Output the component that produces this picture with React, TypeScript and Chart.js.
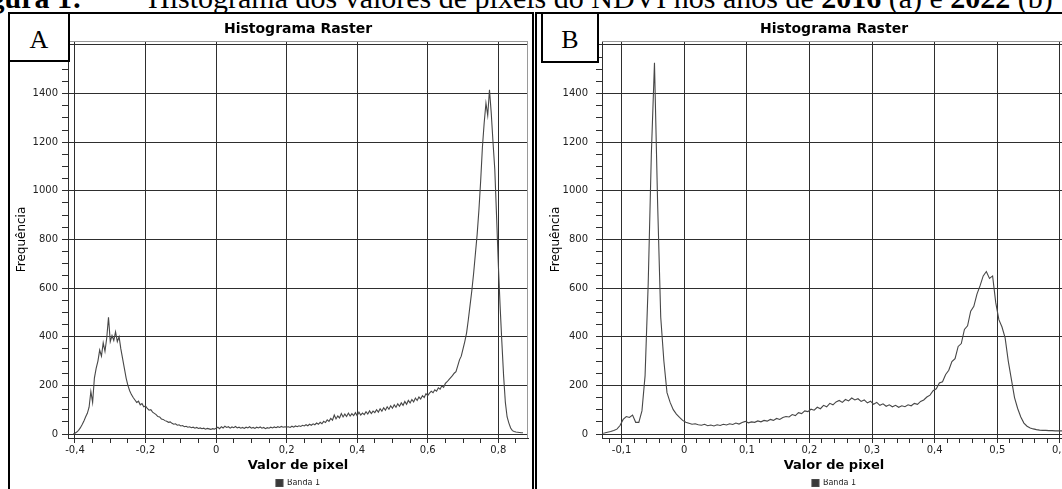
import React, { useEffect, useRef } from 'react';
import { Chart, registerables } from 'chart.js';

Chart.register(...registerables);

const SANS = '"DejaVu Sans", Verdana, sans-serif';
const SERIF = '"Liberation Serif", "Times New Roman", serif';

// ---------- Panel A (2016) : histogram bins ----------
const binStartA = -0.405;
const binWidthA = 0.005;
const freqA = [
  0, 3, 8, 15, 25, 38, 52, 70, 85, 110,
  175, 130, 230, 270, 300, 345, 320, 375, 340, 395,
  480, 380, 405, 385, 420, 380, 400, 350, 310, 270,
  230, 200, 178, 162, 150, 140, 130, 135, 120, 125,
  112, 115,
  105, 98, 100, 90, 85, 80, 72, 70, 62, 60,
  55, 52, 48, 50, 44, 40, 42, 36, 38, 33,
  35, 30, 32, 28, 30, 26, 28, 24, 27, 23,
  25, 22, 24, 20, 23, 21, 19, 22, 20, 24,
  28, 22, 30, 25, 32, 27, 30, 24, 29, 26,
  31, 25, 28, 24, 27, 23, 28, 25, 30, 24,
  27, 23, 28, 25, 29, 24, 27, 22, 26, 24,
  28, 25, 29, 26, 30, 27, 31, 28, 30, 29,
  30, 27, 32, 28, 33, 30, 34, 31, 36, 33,
  38, 34, 40, 36, 42, 38, 45, 40, 48, 42,
  52, 47, 58, 52, 64, 57, 78, 62, 74, 66,
  84, 70, 82, 72, 86, 74, 84, 76, 88, 75,
  90, 78, 86, 80, 92, 82, 95, 84, 94, 88,
  100, 90, 104, 94, 108, 98, 112, 102, 116, 106,
  120, 110, 124, 114, 128, 118, 134, 122, 138, 128,
  142, 132, 148, 138, 152, 144, 158, 150, 166, 158,
  168, 176, 170, 182, 176, 190, 184, 198, 192, 208,
  215, 224, 232, 240, 250, 256, 280, 305, 320, 350,
  380, 415, 470, 530, 590, 660, 740, 820, 920, 1040,
  1180, 1280, 1360, 1310,
  1415, 1320, 1200, 1090, 900, 700, 530, 380, 240, 130,
  70, 45, 25, 14, 10, 8, 7, 6, 5, 5,
];

// ---------- Panel B (2022) : histogram bins ----------
const binStartB = -0.1325;
const binWidthB = 0.005;
const freqB = [
  3, 4, 7, 10, 14, 20, 35, 60, 72, 68,
  78, 48, 48, 95, 240, 620, 1150, 1527, 950, 480,
  300, 170, 130, 100, 82, 68, 56, 48, 44, 40,
  42, 38, 36, 40, 34, 37, 33, 38, 35, 40,
  37, 42, 39, 45, 41, 47, 52, 46, 50, 48,
  54, 50, 56, 53, 60, 56, 64, 60, 68, 72,
  70, 80, 76, 88, 84, 95, 92, 102, 98, 110,
  104, 118, 112, 126, 120, 132, 138, 130, 142, 136,
  148, 140, 145, 134, 140, 128, 135, 122, 130, 118,
  124, 114, 120, 112, 118, 110, 116, 112, 120, 116,
  126, 122, 134, 140, 152, 160, 178, 186, 210, 215,
  245, 262, 298, 310, 360, 372, 430, 445, 505, 525,
  575, 610, 650, 668, 640, 650, 540, 470, 440, 395,
  300, 225, 150, 105, 70, 45, 32, 25, 21, 18,
  16, 15, 15, 14, 14, 13, 13, 13, 12, 12,
  12, 12,
];

// ---------- Axes ----------
const xTicksA = [-0.4, -0.2, 0, 0.2, 0.4, 0.6, 0.8];
const xLabelsA = ['-0,4', '-0,2', '0', '0,2', '0,4', '0,6', '0,8'];
const xMinorStepA = 0.05;
const xRangeA = [-0.4198, 0.8842];

const xTicksB = [-0.1, 0, 0.1, 0.2, 0.3, 0.4, 0.5, 0.6];
const xLabelsB = ['-0,1', '0', '0,1', '0,2', '0,3', '0,4', '0,5', '0,6'];
const xMinorStepB = 0.02;
const xRangeB = [-0.1313, 0.6097];

const yTicks = [0, 200, 400, 600, 800, 1000, 1200, 1400, 1600];
const yLabels = ['0', '200', '400', '600', '800', '1000', '1200', '1400', ''];
const yMinorStep = 50;
const yRange = [-16.4, 1616];

const GRID = '#2e2e2e';
const LINE = '#474747';
const TICK_TXT = '#222';

function minorTicks(min: number, max: number, step: number) {
  const out: number[] = [];
  for (let k = Math.ceil(min / step - 1e-9); k <= Math.floor(max / step + 1e-9); k++) {
    out.push(Math.round(k * step * 1e6) / 1e6);
  }
  return out;
}

function findIdx(list: number[], v: number) {
  return list.findIndex((t) => Math.abs(t - v) < 1e-6);
}

const framePlugin = {
  id: 'frame',
  beforeDatasetsDraw(chart: any) {
    const { ctx, chartArea } = chart;
    const { left, right, top, bottom } = chartArea;
    ctx.save();
    ctx.strokeStyle = '#9a9a9a';
    ctx.lineWidth = 1;
    ctx.beginPath();
    ctx.moveTo(left, Math.round(top) + 0.5);
    ctx.lineTo(right, Math.round(top) + 0.5);
    ctx.moveTo(Math.round(right) - 0.5, top);
    ctx.lineTo(Math.round(right) - 0.5, bottom);
    ctx.stroke();
    ctx.restore();
  },
};

type PanelCfg = {
  binStart: number;
  binWidth: number;
  freq: number[];
  xTicks: number[];
  xLabels: string[];
  xMinorStep: number;
  xRange: number[];
  yAxisWidth: number;
  rightWidth: number;
  yTitlePad: number;
  yTickPad: number;
};

function buildConfig(p: PanelCfg): any {
  const points = p.freq.map((f, i) => ({ x: Math.round((p.binStart + i * p.binWidth) * 1e6) / 1e6, y: f }));
  const xAll = minorTicks(p.xRange[0], p.xRange[1], p.xMinorStep);
  const yAll = minorTicks(yRange[0], yRange[1], yMinorStep);
  return {
    type: 'line',
    data: {
      datasets: [
        {
          label: 'Banda 1',
          data: points,
          xAxisID: 'x',
          yAxisID: 'y',
          borderColor: LINE,
          backgroundColor: '#3a3a3a',
          borderWidth: 1.1,
          pointRadius: 0,
          tension: 0,
          fill: false,
        },
      ],
    },
    options: {
      animation: false,
      responsive: false,
      events: [],
      layout: { padding: 0 },
      plugins: {
        title: {
          display: true,
          text: 'Histograma Raster',
          color: '#000',
          font: { family: SANS, size: 14, weight: 'bold' },
          padding: { top: 6.6, bottom: 3.6 },
        },
        legend: {
          display: true,
          position: 'bottom',
          labels: {
            font: { family: SANS, size: 8 },
            color: TICK_TXT,
            boxWidth: 7,
            boxHeight: 7,
            padding: 0,
          },
        },
        tooltip: { enabled: false },
      },
      scales: {
        x: {
          type: 'linear',
          position: 'bottom',
          bounds: 'data',
          min: p.xRange[0],
          max: p.xRange[1],
          afterBuildTicks: (s: any) => {
            s.ticks = xAll.map((v) => ({ value: v }));
          },
          afterFit: (s: any) => {
            s.height = 41;
          },
          ticks: {
            autoSkip: false,
            maxRotation: 0,
            minRotation: 0,
            padding: 1,
            color: TICK_TXT,
            font: { family: SANS, size: 10 },
            callback: (v: number) => {
              const i = findIdx(p.xTicks, v);
              return i >= 0 ? p.xLabels[i] : '';
            },
          },
          grid: {
            color: (c: any) => (c.tick && findIdx(p.xTicks, c.tick.value) >= 0 ? GRID : 'rgba(0,0,0,0)'),
            tickColor: GRID,
            tickLength: 5,
            lineWidth: 1,
          },
          border: { display: true, color: GRID, width: 1 },
          title: {
            display: true,
            text: 'Valor de pixel',
            color: '#000',
            font: { family: SANS, size: 13, weight: 'bold' },
            padding: { top: 0, bottom: 6 },
          },
        },
        y: {
          type: 'linear',
          position: 'left',
          bounds: 'data',
          min: yRange[0],
          max: yRange[1],
          afterBuildTicks: (s: any) => {
            s.ticks = yAll.map((v) => ({ value: v }));
          },
          afterFit: (s: any) => {
            s.width = p.yAxisWidth;
          },
          ticks: {
            autoSkip: false,
            padding: p.yTickPad,
            color: TICK_TXT,
            font: { family: SANS, size: 10 },
            callback: (v: number) => {
              const i = findIdx(yTicks, v);
              return i >= 0 ? yLabels[i] : '';
            },
          },
          grid: {
            color: (c: any) => (c.tick && findIdx(yTicks, c.tick.value) >= 0 ? GRID : 'rgba(0,0,0,0)'),
            tickColor: GRID,
            tickLength: 6,
            lineWidth: 1,
          },
          border: { display: true, color: GRID, width: 1 },
          title: {
            display: true,
            text: 'Frequência',
            color: '#000',
            font: { family: SANS, size: 12 },
            padding: { top: p.yTitlePad, bottom: 0 },
          },
        },
        y2: {
          type: 'linear',
          position: 'right',
          display: true,
          grid: { display: false, drawTicks: false },
          border: { display: false },
          ticks: { display: false },
          afterFit: (s: any) => {
            s.width = p.rightWidth;
          },
        },
      },
    },
    plugins: [framePlugin],
  };
}

const panelA: PanelCfg = {
  binStart: binStartA,
  binWidth: binWidthA,
  freq: freqA,
  xTicks: xTicksA,
  xLabels: xLabelsA,
  xMinorStep: xMinorStepA,
  xRange: xRangeA,
  yAxisWidth: 58,
  rightWidth: 58,
  yTitlePad: 4.8,
  yTickPad: 4,
};

const panelB: PanelCfg = {
  binStart: binStartB,
  binWidth: binWidthB,
  freq: freqB,
  xTicks: xTicksB,
  xLabels: xLabelsB,
  xMinorStep: xMinorStepB,
  xRange: xRangeB,
  yAxisWidth: 57,
  rightWidth: 57,
  yTitlePad: 3.8,
  yTickPad: 8,
};

function ChartCanvas({ cfg, left, width }: { cfg: PanelCfg; left: number; width: number }) {
  const ref = useRef<HTMLCanvasElement | null>(null);
  useEffect(() => {
    if (!ref.current) return;
    const chart = new Chart(ref.current, buildConfig(cfg));
    return () => chart.destroy();
  }, [cfg]);
  return (
    <canvas
      ref={ref}
      width={width}
      height={483}
      style={{ position: 'absolute', left, top: 14, width, height: 483 }}
    />
  );
}

const line = (left: number, top: number, width: number, height: number) => (
  <div style={{ position: 'absolute', left, top, width, height, background: '#000', zIndex: 3 }} />
);

function LetterBox({ left, width, height, letter }: { left: number; width: number; height: number; letter: string }) {
  return (
    <div
      style={{
        position: 'absolute',
        left,
        top: 12,
        width,
        height,
        boxSizing: 'border-box',
        border: '2px solid #000',
        background: '#fff',
        zIndex: 4,
        display: 'flex',
        alignItems: 'center',
        justifyContent: 'center',
        paddingTop: 5,
        fontFamily: SERIF,
        fontSize: 26,
        lineHeight: 1,
        color: '#000',
      }}
    >
      {letter}
    </div>
  );
}

export default function App() {
  const capStyle: React.CSSProperties = {
    position: 'absolute',
    top: -17,
    fontFamily: SERIF,
    fontSize: 30,
    lineHeight: 1,
    whiteSpace: 'nowrap',
    color: '#000',
  };
  return (
    <div
      style={{
        position: 'fixed',
        left: 0,
        top: 0,
        width: 1062,
        height: 489,
        overflow: 'hidden',
        background: '#fff',
      }}
    >
      <div style={{ ...capStyle, right: 1062 - 82, fontWeight: 700 }}>Figura 1:</div>
      <div style={{ ...capStyle, left: 148 }}>
        Histograma dos valores de pixels do NDVI nos anos de <b>2016</b> (a) e <b>2022</b> (b)
      </div>

      <ChartCanvas cfg={panelA} left={10} width={576} />
      <ChartCanvas cfg={panelB} left={545} width={578} />

      {line(8, 12, 526, 2)}
      {line(8, 12, 2, 480)}
      {line(532, 12, 2, 480)}
      {line(535, 12, 530, 2)}
      {line(535, 12, 2, 480)}

      <LetterBox left={8} width={62} height={50} letter="A" />
      <LetterBox left={541} width={58} height={51} letter="B" />
    </div>
  );
}
